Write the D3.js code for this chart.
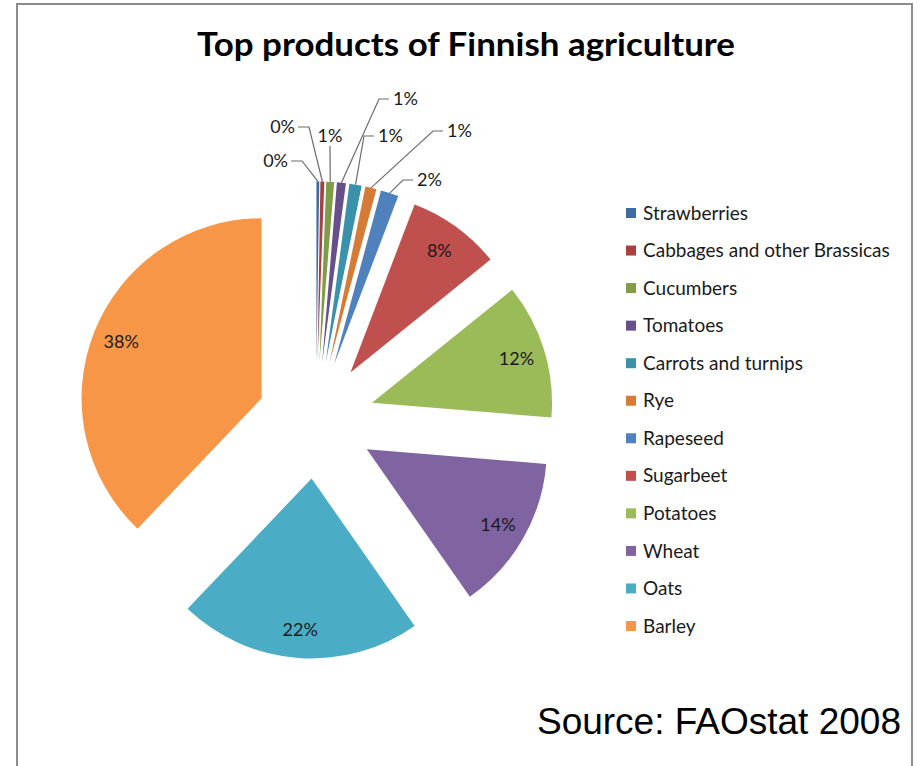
<!DOCTYPE html>
<html>
<head>
<meta charset="utf-8">
<script src="https://cdn.jsdelivr.net/npm/d3@7"></script>
<style>
  html, body { margin: 0; padding: 0; background: #fff; }
  svg { display: block; }
</style>
</head>
<body>
<div id="chart"></div>
<script>
// products in pie order (clockwise from 12 o'clock)
const products = ["Strawberries", "Cabbages and other Brassicas", "Cucumbers", "Tomatoes",
  "Carrots and turnips", "Rye", "Rapeseed", "Sugarbeet", "Potatoes", "Wheat", "Oats", "Barley"];
// share of production value, %
const shares = [0.25, 0.35, 0.7, 0.8, 1.1, 1.0, 1.6, 8.4, 12.1, 14.0, 21.8, 37.9];
const colors = ["#3e6ba6", "#a8403d", "#7e9d46", "#674f8a", "#3a92aa", "#d67b35",
  "#4f81bd", "#c0504d", "#9bbb59", "#8064a2", "#4bacc6", "#f79646"];

const titleText = "Top products of Finnish agriculture";
const sourceText = "Source: FAOstat 2008";

// where Excel put the outside labels of the thin slices (relative to pie centre)
const outsideLabels = [
  { dx: -28, dy: -253, anchor: "end" },
  { dx: -21, dy: -287, anchor: "end" },
  { dx: 14, dy: -278, anchor: "middle" },
  { dx: 77, dy: -315, anchor: "start" },
  { dx: 62, dy: -278, anchor: "start" },
  { dx: 131, dy: -283, anchor: "start" },
  { dx: 101, dy: -234, anchor: "start" }
];

const width = 920, height = 766;
const cx = 316, cy = 420;
const radius = 180;
const explode = 58.6;

const svg = d3.select("#chart")
  .append("svg")
  .attr("width", width)
  .attr("height", height);

// chart frame
svg.append("rect")
  .attr("x", 17).attr("y", 4)
  .attr("width", 895).attr("height", height + 10)
  .attr("fill", "#fff")
  .attr("stroke", "#8c8c8c")
  .attr("stroke-width", 2);

svg.append("text")
  .attr("x", 466).attr("y", 56)
  .attr("text-anchor", "middle")
  .attr("font-family", "Lato, sans-serif")
  .attr("font-weight", "bold")
  .attr("font-size", 33)
  .attr("textLength", 538)
  .attr("lengthAdjust", "spacingAndGlyphs")
  .attr("fill", "#000")
  .text(titleText);

const data = products.map((p, i) => ({ product: p, share: shares[i], color: colors[i], idx: i }));
const total = d3.sum(shares);
const pct = d3.format(".0%");

const pie = d3.pie()
  .sort(null)
  .value(d => d.share)
  .startAngle(0)
  .endAngle(2 * Math.PI);

const arc = d3.arc().innerRadius(0).outerRadius(radius);
const arcs = pie(data);

const mid = a => (a.startAngle + a.endAngle) / 2;
const dir = a => [Math.sin(mid(a)), -Math.cos(mid(a))];

const pieG = svg.append("g").attr("transform", `translate(${cx},${cy})`);

pieG.selectAll("path")
  .data(arcs)
  .join("path")
  .attr("transform", a => `translate(${dir(a)[0] * explode},${dir(a)[1] * explode})`)
  .attr("d", arc)
  .attr("fill", a => a.data.color);

// labels inside the big slices
const big = arcs.filter(a => a.data.share / total >= 0.05);
pieG.selectAll("text.inside")
  .data(big)
  .join("text")
  .attr("class", "inside")
  .attr("x", a => dir(a)[0] * (explode + radius * 0.84))
  .attr("y", a => dir(a)[1] * (explode + radius * 0.84))
  .attr("dy", "0.35em")
  .attr("text-anchor", "middle")
  .attr("font-family", "Lato, sans-serif")
  .attr("font-size", 18)
  .attr("fill", "#1a1a1a")
  .text(a => pct(a.data.share / total));

// thin slices get outside labels with leader lines
const small = arcs.filter(a => a.data.share / total < 0.05);
small.forEach((a, i) => {
  const L = outsideLabels[i];
  const [ux, uy] = dir(a);
  const px = ux * (explode + radius), py = uy * (explode + radius);
  let pts;
  if (L.anchor === "start") {
    pts = [[px, py], [L.dx - 14, L.dy - 6], [L.dx - 4, L.dy - 6]];
  } else if (L.anchor === "end") {
    pts = [[px, py], [L.dx + 14, L.dy - 6], [L.dx + 3, L.dy - 6]];
  } else {
    pts = [[px, py], [L.dx, L.dy + 4]];
  }
  pieG.append("path")
    .attr("d", d3.line()(pts))
    .attr("fill", "none")
    .attr("stroke", "#6b6b6b")
    .attr("stroke-width", 1.2);
  pieG.append("text")
    .attr("x", L.dx).attr("y", L.dy)
    .attr("text-anchor", L.anchor)
    .attr("font-family", "Lato, sans-serif")
    .attr("font-size", 18)
    .attr("fill", "#1a1a1a")
    .text(pct(a.data.share / total));
});

// legend
const legY = d3.scalePoint()
  .domain(products)
  .range([213, 626]);

const leg = svg.append("g");
const item = leg.selectAll("g")
  .data(data)
  .join("g")
  .attr("transform", d => `translate(626,${legY(d.product)})`);

item.append("rect")
  .attr("x", 0).attr("y", -5)
  .attr("width", 10).attr("height", 10)
  .attr("fill", d => d.color);

item.append("text")
  .attr("x", 17)
  .attr("dy", "0.35em")
  .attr("font-family", "Lato, sans-serif")
  .attr("font-size", 19)
  .attr("fill", "#1a1a1a")
  .text(d => d.product);

svg.append("text")
  .attr("x", 901).attr("y", 734)
  .attr("text-anchor", "end")
  .attr("font-family", "'Liberation Sans', Arial, sans-serif")
  .attr("font-size", 37)
  .attr("fill", "#000")
  .text(sourceText);
</script>
</body>
</html>
